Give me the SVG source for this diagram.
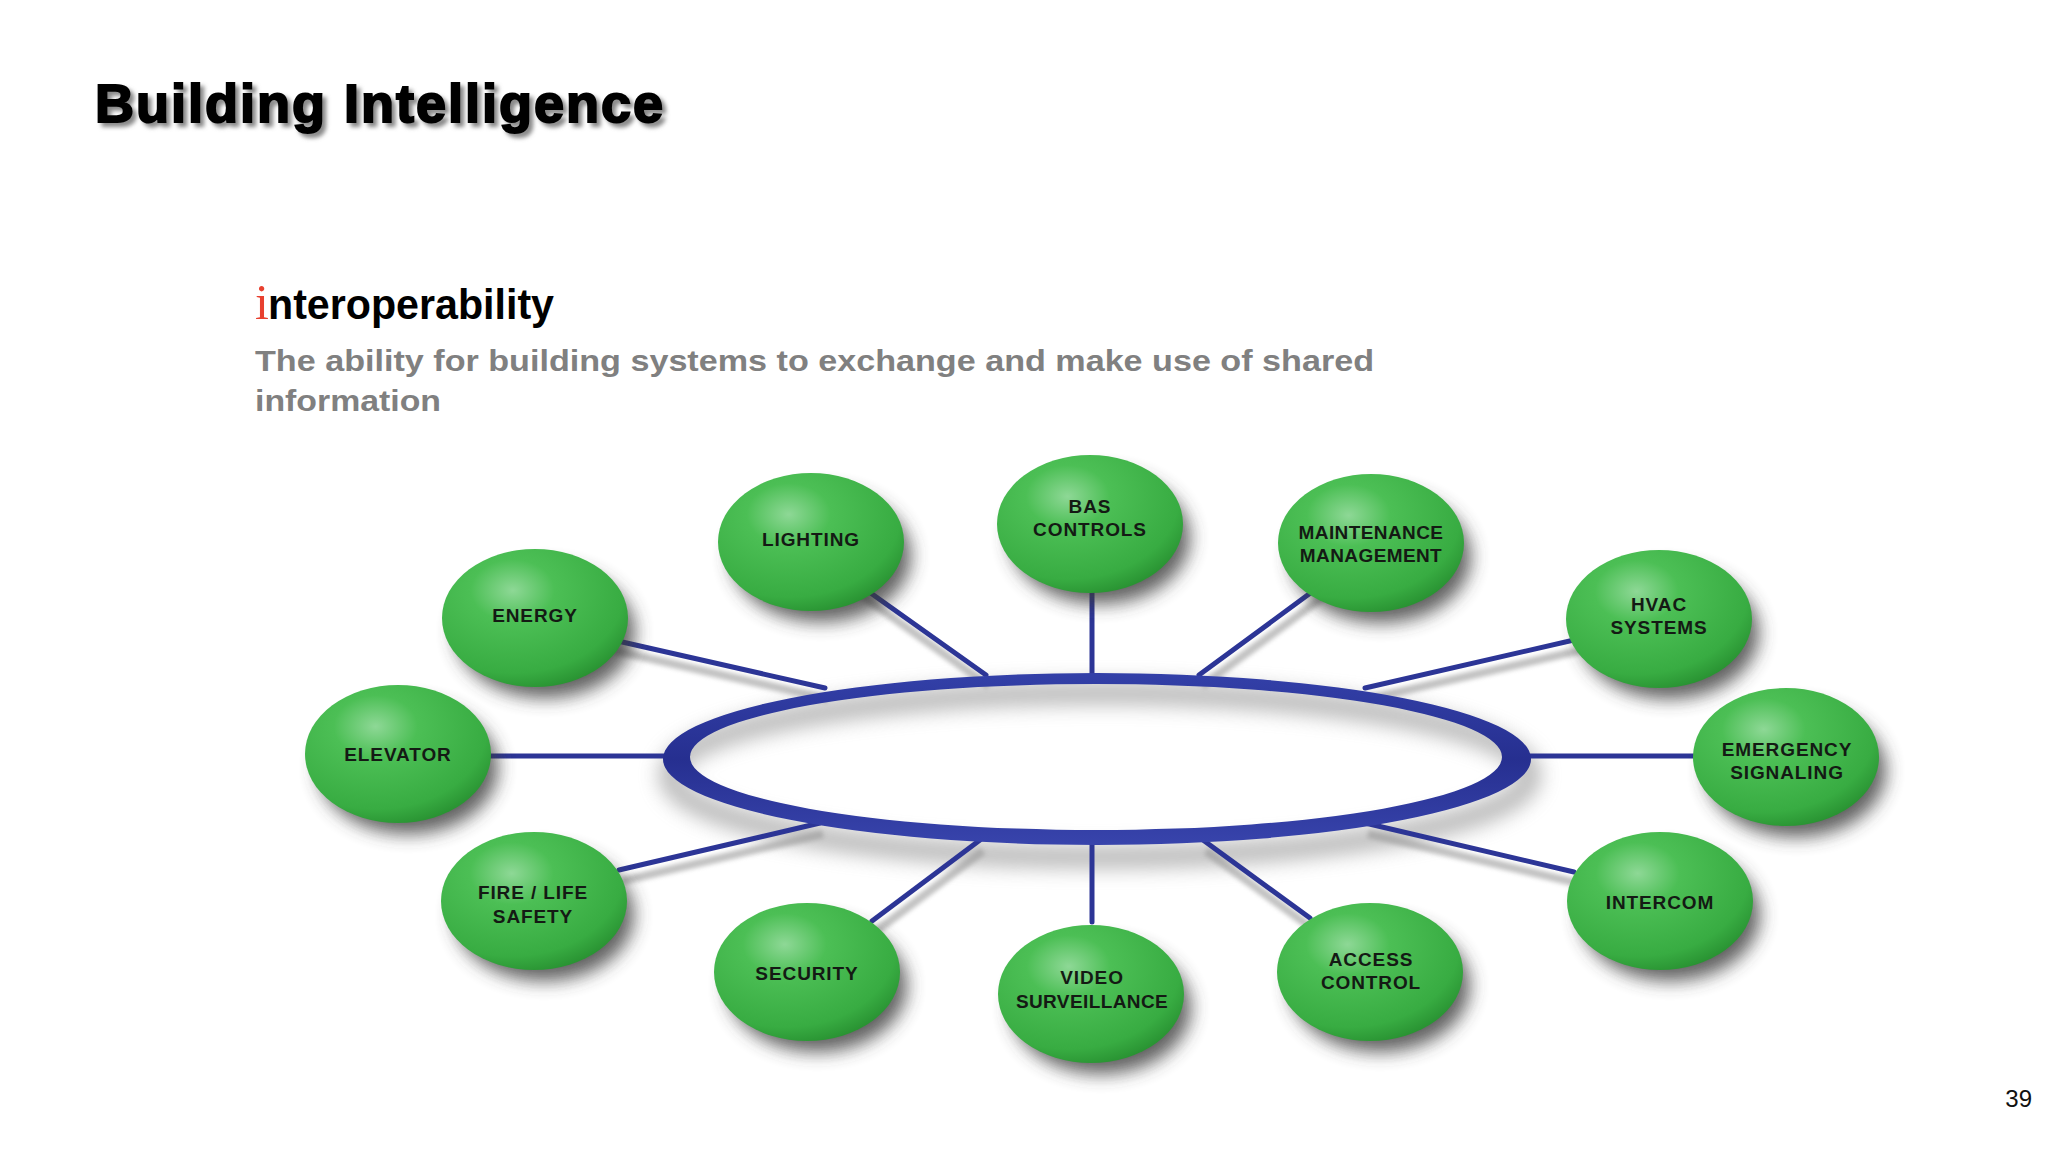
<svg xmlns="http://www.w3.org/2000/svg" width="2048" height="1152" viewBox="0 0 2048 1152">
<defs>
<radialGradient id="gr" cx="0.38" cy="0.3" r="0.75">
<stop offset="0" stop-color="#8ed896"/>
<stop offset="0.3" stop-color="#4cbf55"/>
<stop offset="0.8" stop-color="#38ac42"/>
<stop offset="1" stop-color="#278f30"/>
</radialGradient>
<linearGradient id="ringg" x1="0" y1="0" x2="0" y2="1">
<stop offset="0" stop-color="#3340a8"/>
<stop offset="0.5" stop-color="#262f90"/>
<stop offset="1" stop-color="#3844ac"/>
</linearGradient>
<filter id="sh" x="-30%" y="-30%" width="160%" height="170%">
<feGaussianBlur stdDeviation="9"/>
</filter>
<filter id="tsh" x="-5%" y="-20%" width="110%" height="150%">
<feGaussianBlur stdDeviation="2"/>
</filter>
<filter id="rsh" x="-10%" y="-40%" width="120%" height="180%">
<feGaussianBlur stdDeviation="10"/>
</filter>
<style>
.node{fill:url(#gr);}
.nsh{fill:#3a3a3a;opacity:0.8;filter:url(#sh);}
.lbl{font-family:"Liberation Sans",Arial,sans-serif;font-weight:bold;font-size:19px;letter-spacing:0.9px;fill:#141a14;text-anchor:middle;}
.spoke{stroke:#2c3596;stroke-width:5;stroke-linecap:round;fill:none;}
.ssh{stroke:#9a9a9a;stroke-width:8;fill:none;opacity:0.6;filter:url(#tsh);}
</style>
</defs>
<rect width="2048" height="1152" fill="#ffffff"/>

<g id="title">
<text x="99" y="126" font-family="Liberation Sans,Arial,sans-serif" font-weight="bold" font-size="54" letter-spacing="2" fill="#888" stroke="#888" stroke-width="2" filter="url(#tsh)">Building Intelligence</text>
<text x="95" y="122" font-family="Liberation Sans,Arial,sans-serif" font-weight="bold" font-size="54" letter-spacing="2" fill="#000" stroke="#000" stroke-width="2">Building Intelligence</text>
</g>

<g id="heading">
<text x="255" y="319" font-family="Liberation Serif,Times New Roman,serif" font-size="50" fill="#e8402f">i</text>
<text x="268" y="319" font-family="Liberation Sans,Arial,sans-serif" font-weight="bold" font-size="43" fill="#000" textLength="286" lengthAdjust="spacingAndGlyphs">nteroperability</text>
<text x="255" y="371" font-family="Liberation Sans,Arial,sans-serif" font-weight="bold" font-size="30" fill="#808080" textLength="1119" lengthAdjust="spacingAndGlyphs">The ability for building systems to exchange and make use of shared</text>
<text x="255" y="411" font-family="Liberation Sans,Arial,sans-serif" font-weight="bold" font-size="30" fill="#808080" textLength="186" lengthAdjust="spacingAndGlyphs">information</text>
</g>

<g id="ring-shadow">
<ellipse cx="1100" cy="775" rx="430" ry="82" fill="none" stroke="#888" stroke-width="22" opacity="0.6" filter="url(#rsh)"/>
</g>

<g id="connectors">
<line class="ssh" x1="612" y1="650" x2="828" y2="699"/>
<line class="ssh" x1="861" y1="595" x2="989" y2="686"/>
<line class="ssh" x1="1096" y1="590" x2="1096" y2="685"/>
<line class="ssh" x1="1327" y1="594" x2="1202" y2="686"/>
<line class="ssh" x1="1590" y1="648" x2="1368" y2="699"/>
<line class="ssh" x1="489" y1="767" x2="669" y2="767"/>
<line class="ssh" x1="1531" y1="767" x2="1701" y2="767"/>
<line class="ssh" x1="622" y1="881" x2="823" y2="834"/>
<line class="ssh" x1="875" y1="932" x2="983" y2="851"/>
<line class="ssh" x1="1096" y1="853" x2="1096" y2="933"/>
<line class="ssh" x1="1313" y1="929" x2="1206" y2="851"/>
<line class="ssh" x1="1577" y1="883" x2="1368" y2="834"/>

<line class="spoke" x1="609" y1="639" x2="825" y2="688"/>
<line class="spoke" x1="858" y1="584" x2="986" y2="675"/>
<line class="spoke" x1="1092" y1="579" x2="1092" y2="674"/>
<line class="spoke" x1="1324" y1="583" x2="1199" y2="675"/>
<line class="spoke" x1="1587" y1="637" x2="1365" y2="688"/>
<line class="spoke" x1="486" y1="756" x2="666" y2="756"/>
<line class="spoke" x1="1528" y1="756" x2="1698" y2="756"/>
<line class="spoke" x1="619" y1="870" x2="820" y2="823"/>
<line class="spoke" x1="872" y1="921" x2="980" y2="840"/>
<line class="spoke" x1="1092" y1="842" x2="1092" y2="922"/>
<line class="spoke" x1="1310" y1="918" x2="1203" y2="840"/>
<line class="spoke" x1="1574" y1="872" x2="1365" y2="823"/>
</g>

<g id="ring">
<path fill="url(#ringg)" fill-rule="evenodd" d="M663,759 a434,86 0 1,0 868,0 a434,86 0 1,0 -868,0 Z M690,757 a406,73 0 1,0 812,0 a406,73 0 1,0 -812,0 Z"/>
</g>

<g id="node-lighting">
<ellipse class="nsh" cx="821" cy="556" rx="90" ry="66"/>
<ellipse class="node" cx="811" cy="542" rx="93" ry="69"/>
<text class="lbl" x="811" y="546">LIGHTING</text>
</g>
<g id="node-bas">
<ellipse class="nsh" cx="1100" cy="538" rx="90" ry="66"/>
<ellipse class="node" cx="1090" cy="524" rx="93" ry="69"/>
<text class="lbl" x="1090" y="513">BAS</text>
<text class="lbl" x="1090" y="536">CONTROLS</text>
</g>
<g id="node-maintenance">
<ellipse class="nsh" cx="1381" cy="557" rx="90" ry="66"/>
<ellipse class="node" cx="1371" cy="543" rx="93" ry="69"/>
<text class="lbl" x="1371" y="539" style="letter-spacing:0.4px">MAINTENANCE</text>
<text class="lbl" x="1371" y="562" style="letter-spacing:0.4px">MANAGEMENT</text>
</g>
<g id="node-energy">
<ellipse class="nsh" cx="545" cy="632" rx="90" ry="66"/>
<ellipse class="node" cx="535" cy="618" rx="93" ry="69"/>
<text class="lbl" x="535" y="622">ENERGY</text>
</g>
<g id="node-hvac">
<ellipse class="nsh" cx="1669" cy="633" rx="90" ry="66"/>
<ellipse class="node" cx="1659" cy="619" rx="93" ry="69"/>
<text class="lbl" x="1659" y="611">HVAC</text>
<text class="lbl" x="1659" y="634">SYSTEMS</text>
</g>
<g id="node-elevator">
<ellipse class="nsh" cx="408" cy="768" rx="90" ry="66"/>
<ellipse class="node" cx="398" cy="754" rx="93" ry="69"/>
<text class="lbl" x="398" y="761">ELEVATOR</text>
</g>
<g id="node-emergency">
<ellipse class="nsh" cx="1796" cy="771" rx="90" ry="66"/>
<ellipse class="node" cx="1786" cy="757" rx="93" ry="69"/>
<text class="lbl" x="1787" y="756">EMERGENCY</text>
<text class="lbl" x="1787" y="779">SIGNALING</text>
</g>
<g id="node-fire">
<ellipse class="nsh" cx="544" cy="915" rx="90" ry="66"/>
<ellipse class="node" cx="534" cy="901" rx="93" ry="69"/>
<text class="lbl" x="533" y="899">FIRE / LIFE</text>
<text class="lbl" x="533" y="923">SAFETY</text>
</g>
<g id="node-intercom">
<ellipse class="nsh" cx="1670" cy="915" rx="90" ry="66"/>
<ellipse class="node" cx="1660" cy="901" rx="93" ry="69"/>
<text class="lbl" x="1660" y="909">INTERCOM</text>
</g>
<g id="node-security">
<ellipse class="nsh" cx="817" cy="986" rx="90" ry="66"/>
<ellipse class="node" cx="807" cy="972" rx="93" ry="69"/>
<text class="lbl" x="807" y="980">SECURITY</text>
</g>
<g id="node-video">
<ellipse class="nsh" cx="1101" cy="1008" rx="90" ry="66"/>
<ellipse class="node" cx="1091" cy="994" rx="93" ry="69"/>
<text class="lbl" x="1092" y="984">VIDEO</text>
<text class="lbl" x="1092" y="1008" style="letter-spacing:0.4px">SURVEILLANCE</text>
</g>
<g id="node-access">
<ellipse class="nsh" cx="1380" cy="986" rx="90" ry="66"/>
<ellipse class="node" cx="1370" cy="972" rx="93" ry="69"/>
<text class="lbl" x="1371" y="966">ACCESS</text>
<text class="lbl" x="1371" y="989">CONTROL</text>
</g>

<text x="2032" y="1107" font-family="Liberation Sans,Arial,sans-serif" font-size="24" fill="#111" text-anchor="end">39</text>
</svg>
